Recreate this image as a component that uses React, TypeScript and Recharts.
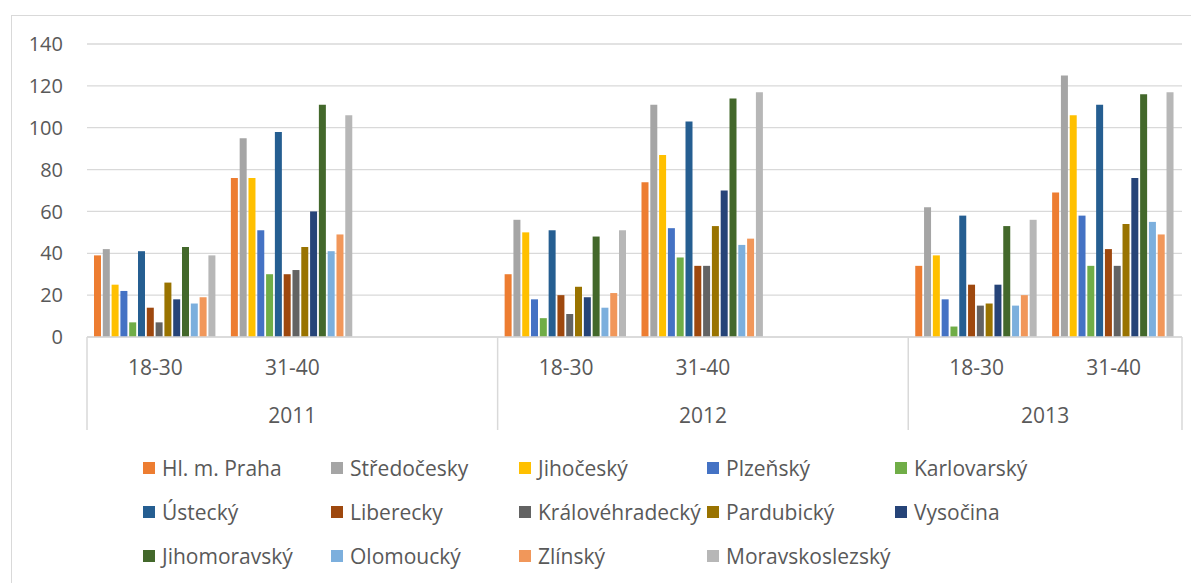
import React from 'react';
import { BarChart, Bar, XAxis, YAxis, CartesianGrid, Legend } from 'recharts';

const YEARS = ['2011', '2011', '2011', '2012', '2012', '2012', '2013', '2013'];
const AGE_GROUPS = ['18-30', '31-40', '', '18-30', '31-40', '', '18-30', '31-40'];
const Y_TICKS = [0, 20, 40, 60, 80, 100, 120, 140];

const SERIES_NAMES = [
  'Hl. m. Praha', 'Středočesky', 'Jihočeský', 'Plzeňský', 'Karlovarský',
  'Ústecký', 'Liberecky', 'Královéhradecký', 'Pardubický', 'Vysočina',
  'Jihomoravský', 'Olomoucký', 'Zlínský', 'Moravskoslezský',
];
const SERIES_COLORS = [
  '#ED7D31', '#A5A5A5', '#FFC000', '#4472C4', '#70AD47',
  '#255E91', '#9E480E', '#636363', '#997300', '#264478',
  '#43682B', '#7CAFDD', '#F1975A', '#B7B7B7',
];

const PRAHA = [39, 76, null, 30, 74, null, 34, 69];
const STREDOCESKY = [42, 95, null, 56, 111, null, 62, 125];
const JIHOCESKY = [25, 76, null, 50, 87, null, 39, 106];
const PLZENSKY = [22, 51, null, 18, 52, null, 18, 58];
const KARLOVARSKY = [7, 30, null, 9, 38, null, 5, 34];
const USTECKY = [41, 98, null, 51, 103, null, 58, 111];
const LIBERECKY = [14, 30, null, 20, 34, null, 25, 42];
const KRALOVEHRADECKY = [7, 32, null, 11, 34, null, 15, 34];
const PARDUBICKY = [26, 43, null, 24, 53, null, 16, 54];
const VYSOCINA = [18, 60, null, 19, 70, null, 25, 76];
const JIHOMORAVSKY = [43, 111, null, 48, 114, null, 53, 116];
const OLOMOUCKY = [16, 41, null, 14, 44, null, 15, 55];
const ZLINSKY = [19, 49, null, 21, 47, null, 20, 49];
const MORAVSKOSLEZSKY = [39, 106, null, 51, 117, null, 56, 117];

const SERIES_VALUES = [
  PRAHA, STREDOCESKY, JIHOCESKY, PLZENSKY, KARLOVARSKY, USTECKY, LIBERECKY,
  KRALOVEHRADECKY, PARDUBICKY, VYSOCINA, JIHOMORAVSKY, OLOMOUCKY, ZLINSKY, MORAVSKOSLEZSKY,
];

const data = AGE_GROUPS.map((age, i) => {
  const row: Record<string, any> = { slot: `${YEARS[i]}|${age}|${i}` };
  SERIES_VALUES.forEach((vals, s) => {
    row[`s${s}`] = vals[i];
  });
  return row;
});

const CHART_W = 1183;
const CHART_H = 570;
const MARGIN = { top: 36, right: 9, bottom: 0, left: 0 };
const Y_AXIS_W = 79;
const SLOT_W = (CHART_W - MARGIN.left - MARGIN.right - Y_AXIS_W) / AGE_GROUPS.length;
const TEXT = '#595959';
const LINE = '#D9D9D9';
const FONT = '"Open Sans", sans-serif';

function CategoryTick(props: any) {
  const { x, y, index } = props;
  const year = YEARS[index];
  const first = index === 0 || YEARS[index - 1] !== year;
  const last = index === YEARS.length - 1;
  const span = YEARS.filter((v) => v === year).length;
  return (
    <g>
      {first && (
        <line x1={x - SLOT_W / 2} x2={x - SLOT_W / 2} y1={y} y2={y + 93} stroke={LINE} strokeWidth={1.5} />
      )}
      {last && (
        <line x1={x + SLOT_W / 2} x2={x + SLOT_W / 2} y1={y} y2={y + 93} stroke={LINE} strokeWidth={1.5} />
      )}
      <text x={x} y={y + 30} textAnchor="middle" dominantBaseline="central" fill={TEXT} fontSize={21} fontFamily={FONT}>
        {AGE_GROUPS[index]}
      </text>
      {first && (
        <text
          x={x - SLOT_W / 2 + (span * SLOT_W) / 2}
          y={y + 78}
          textAnchor="middle"
          dominantBaseline="central"
          fill={TEXT}
          fontSize={21}
          fontFamily={FONT}
        >
          {year}
        </text>
      )}
    </g>
  );
}

function renderLegend() {
  return (
    <div style={{ display: 'flex', flexWrap: 'wrap', width: 960, height: 132, fontFamily: FONT }}>
      {SERIES_NAMES.map((name, i) => (
        <div key={name} style={{ width: 188, height: 44, display: 'flex', alignItems: 'center' }}>
          <span style={{ display: 'inline-block', width: 12, height: 12, background: SERIES_COLORS[i], marginRight: 7 }} />
          <span style={{ fontSize: 21, color: TEXT, whiteSpace: 'nowrap' }}>{name}</span>
        </div>
      ))}
    </div>
  );
}

export default function App() {
  return (
    <div style={{ position: 'relative', width: CHART_W, height: 575, overflow: 'hidden', fontFamily: FONT }}>
      <div
        style={{
          position: 'absolute', left: 3, top: 7, width: 1300, height: 1000,
          border: `1.5px solid ${LINE}`, boxSizing: 'border-box',
        }}
      />
      <BarChart
        width={CHART_W}
        height={CHART_H}
        data={data}
        margin={MARGIN}
        barCategoryGap={7}
        barGap={1.8}
      >
        <CartesianGrid vertical={false} stroke={LINE} strokeWidth={1.3} />
        <XAxis
          dataKey="slot"
          interval={0}
          height={109}
          tickLine={false}
          tickSize={0}
          tickMargin={0}
          axisLine={{ stroke: LINE, strokeWidth: 1.5 }}
          tick={<CategoryTick />}
        />
        <YAxis
          width={Y_AXIS_W}
          domain={[0, 140]}
          ticks={Y_TICKS}
          interval={0}
          tickLine={false}
          axisLine={false}
          tickSize={0}
          tickMargin={24}
          tick={{ fill: TEXT, fontSize: 20, fontFamily: FONT }}
        />
        <Legend
          verticalAlign="bottom"
          align="left"
          wrapperStyle={{ left: 135, width: 960, height: 132 }}
          content={renderLegend}
        />
        {SERIES_NAMES.map((name, s) => (
          <Bar key={name} dataKey={`s${s}`} name={name} fill={SERIES_COLORS[s]} isAnimationActive={false} />
        ))}
      </BarChart>
    </div>
  );
}
